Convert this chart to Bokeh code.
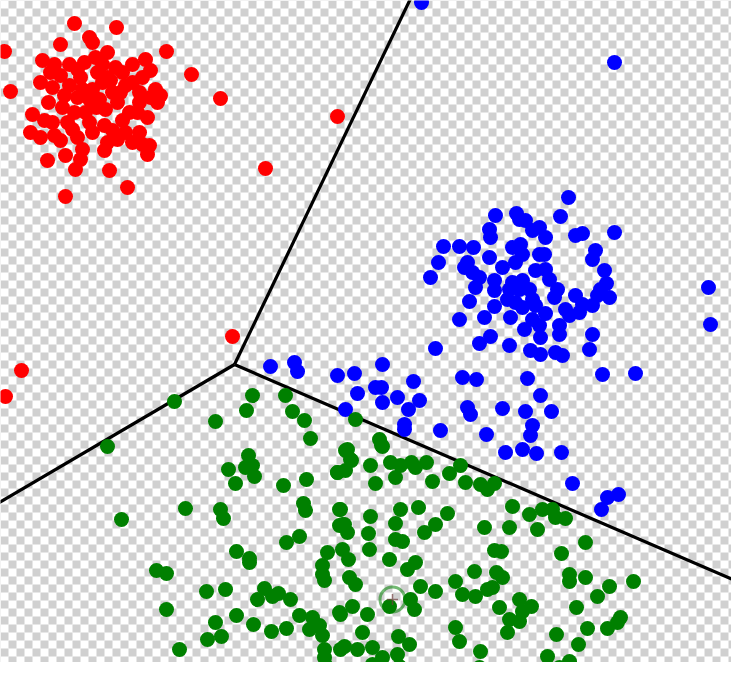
import numpy as np
from bokeh.plotting import figure
from bokeh.models import Range1d
from bokeh.embed import file_html
from bokeh.resources import INLINE

# ---------------- data (picture coordinates, y grows downward) ----------------
red_x = [82, 124, 97, 100, 68, 12, 174, 199, 18, 228, 50, 62, 77, 85, 103, 110, 123, 130, 140,
         153, 158, 48, 68, 77, 90, 100, 110, 115, 120, 133, 147, 163, 168, 165, 72, 97, 107, 125,
         147, 40, 52, 70, 82, 93, 113, 137, 155, 38, 48, 62, 68, 80, 97, 112, 120, 133, 147, 115,
         112, 150, 157, 155, 90, 73, 55, 88, 83, 117, 135, 73, 273, 345, 273, 240, 29, 13,
         58, 88, 105, 118, 128, 140, 150, 60, 85, 104, 130, 60, 75, 100, 125, 140, 85, 145, 158,
         92, 115, 56]
red_y = [31, 35, 45, 50, 52, 59, 59, 82, 99, 106, 68, 72, 72, 77, 65, 72, 75, 80, 72,
         67, 78, 90, 83, 93, 97, 97, 90, 85, 100, 93, 100, 97, 103, 110, 103, 107, 107, 110,
         110, 122, 128, 115, 120, 120, 117, 120, 125, 140, 145, 143, 148, 137, 130, 133, 138, 140, 140, 150,
         158, 152, 153, 162, 157, 163, 168, 167, 177, 178, 195, 204, 0, 124, 176, 344, 378, 404,
         80, 85, 80, 88, 100, 90, 85, 95, 105, 115, 128, 130, 130, 140, 147, 150, 145, 120, 105,
         70, 60, 110]

blue_x = [429, 622, 576, 568, 503, 524, 527, 533, 622, 583, 590, 540, 547, 553, 497, 498, 451, 467,
          481, 520, 528, 530, 547, 552, 603, 600, 446, 475, 472, 497, 510, 523, 543, 553, 612, 438,
          480, 487, 502, 520, 530, 557, 614, 608, 483, 502, 517, 527, 537, 565, 562, 617, 605, 477,
          515, 523, 540, 583, 590, 600, 502, 530, 543, 573, 577, 587, 553, 467, 492, 518, 540, 547,
          532, 567, 567, 498, 487, 548, 600, 597, 443, 517, 538, 548, 563, 570, 470, 484, 535, 610,
          643, 716, 718, 548, 559, 510, 533, 540, 538, 513, 530, 544, 569, 580, 615, 626, 609, 278,
          302, 305, 345, 362, 390, 365, 383, 389, 390, 405, 421, 427, 416, 353, 412, 412, 448, 475,
          478, 494]
blue_y = [10, 70, 205, 224, 223, 221, 227, 228, 240, 243, 241, 238, 235, 245, 237, 245, 254, 254,
          255, 255, 252, 262, 262, 262, 258, 267, 270, 270, 275, 265, 275, 270, 278, 277, 278, 285,
          280, 285, 288, 290, 288, 287, 291, 297, 295, 298, 297, 297, 297, 297, 305, 305, 303, 309,
          307, 310, 307, 303, 312, 313, 314, 315, 313, 317, 323, 320, 321, 327, 325, 325, 327, 333,
          337, 333, 342, 344, 351, 345, 342, 357, 356, 353, 358, 362, 360, 363, 385, 387, 386, 382,
          381, 295, 332, 403, 419, 416, 419, 433, 443, 460, 457, 461, 460, 491, 505, 502, 517, 374,
          370, 379, 383, 381, 372, 401, 395, 395, 410, 405, 389, 408, 417, 417, 432, 437, 438, 415,
          422, 442]

green_x = [182, 115, 260, 254, 223, 293, 300, 312, 318, 256, 253, 260, 262, 236, 243, 291, 314, 345,
           193, 129, 228, 231, 311, 313, 347, 294, 307, 347, 244, 257, 257, 335, 330, 330, 332, 164,
           174, 214, 233, 272, 265, 280, 286, 298, 174, 244, 223, 261, 307, 320, 327, 330, 279, 294,
           215, 229, 317, 187, 332, 332, 333, 347, 348, 363, 387, 389, 353, 359, 345, 353, 378, 383,
           398, 408, 419, 423, 434, 403, 440, 457, 468, 473, 488, 495, 502, 348, 350, 378, 408, 403,
           426, 443, 455, 492, 520, 537, 550, 560, 563, 573, 517, 545, 355, 358, 390, 352, 355, 376,
           377, 403, 410, 432, 350, 356, 357, 363, 397, 415, 423, 428, 443, 418, 422, 463, 470, 483,
           495, 482, 360, 348, 375, 397, 370, 406, 417, 463, 467, 488, 352, 365, 380, 390, 380, 405,
           407, 487, 593, 502, 509, 569, 504, 510, 500, 577, 577, 593, 641, 617, 605, 507, 527, 539,
           530, 517, 527, 515, 584, 564, 595, 615, 625, 628, 586, 555, 577, 577, 567]
green_y = [409, 454, 403, 418, 429, 403, 419, 428, 446, 463, 475, 473, 484, 477, 491, 493, 487, 480,
           516, 527, 517, 526, 511, 518, 517, 550, 544, 533, 559, 566, 570, 560, 573, 582, 588, 578,
           581, 599, 597, 596, 607, 604, 601, 607, 617, 623, 630, 632, 623, 625, 633, 643, 639, 636,
           647, 644, 637, 657, 657, 665, 673, 620, 657, 427, 447, 453, 458, 468, 480, 478, 473, 491,
           470, 473, 470, 475, 470, 485, 489, 481, 473, 490, 492, 497, 491, 517, 532, 524, 517, 531,
           515, 532, 521, 535, 514, 522, 517, 517, 525, 526, 535, 537, 457, 467, 454, 532, 540, 541,
           557, 547, 549, 540, 557, 567, 585, 592, 567, 577, 570, 594, 599, 607, 617, 589, 602, 604,
           597, 579, 614, 622, 622, 614, 640, 644, 652, 635, 649, 659, 654, 657, 655, 665, 672, 662,
           674, 675, 550, 558, 559, 561, 580, 585, 595, 582, 589, 585, 589, 594, 604, 615, 607, 614,
           619, 627, 629, 640, 615, 642, 636, 636, 630, 625, 652, 664, 669, 675, 675]

# highlighted (selected) sample
marked_x = [400]
marked_y = [607]

# decision boundaries: common vertex and three rays
junction = (242, 372)
boundary_end_x = [421, 0, 747]
boundary_end_y = [0, 514, 590]

# ---------------- figure ----------------
W, H = 731, 662
p = figure(width=W, height=H, output_backend="svg", toolbar_location=None,
           x_range=Range1d(8, 8 + W), y_range=Range1d(8 + H, 8),
           min_border=0, background_fill_color="white", border_fill_color="white")
p.axis.visible = False
p.grid.visible = False
p.outline_line_color = None

# transparency checkerboard background
sq = 8
cols = np.arange(0, 747 // sq + 1)
rows = np.arange(0, 678 // sq + 1)
cc, rr = np.meshgrid(cols, rows)
mask = ((cc + rr) % 2) == 1
left = (cc[mask] * sq).astype(float)
top = (rr[mask] * sq).astype(float)
p.quad(left=left, right=left + sq, top=top, bottom=top + sq,
       fill_color="#d0d0d0", line_color=None)

# boundaries
for ex, ey in zip(boundary_end_x, boundary_end_y):
    p.line([junction[0], ex], [junction[1], ey], line_color="black", line_width=3.2)

# points
p.scatter(red_x, red_y, size=15, fill_color="#ff0000", line_color=None)
p.scatter(blue_x, blue_y, size=15, fill_color="#0000ff", line_color=None)
p.scatter(green_x, green_y, size=15, fill_color="#008000", line_color=None)

p.scatter(marked_x, marked_y, marker="circle", size=25, fill_color=None,
          line_color="#008000", line_alpha=0.55, line_width=3)
p.scatter(marked_x, marked_y, marker="cross", size=11, line_color="#704040",
          line_alpha=0.7, line_width=1.5)

open("out.html", "w").write(file_html(p, INLINE))
